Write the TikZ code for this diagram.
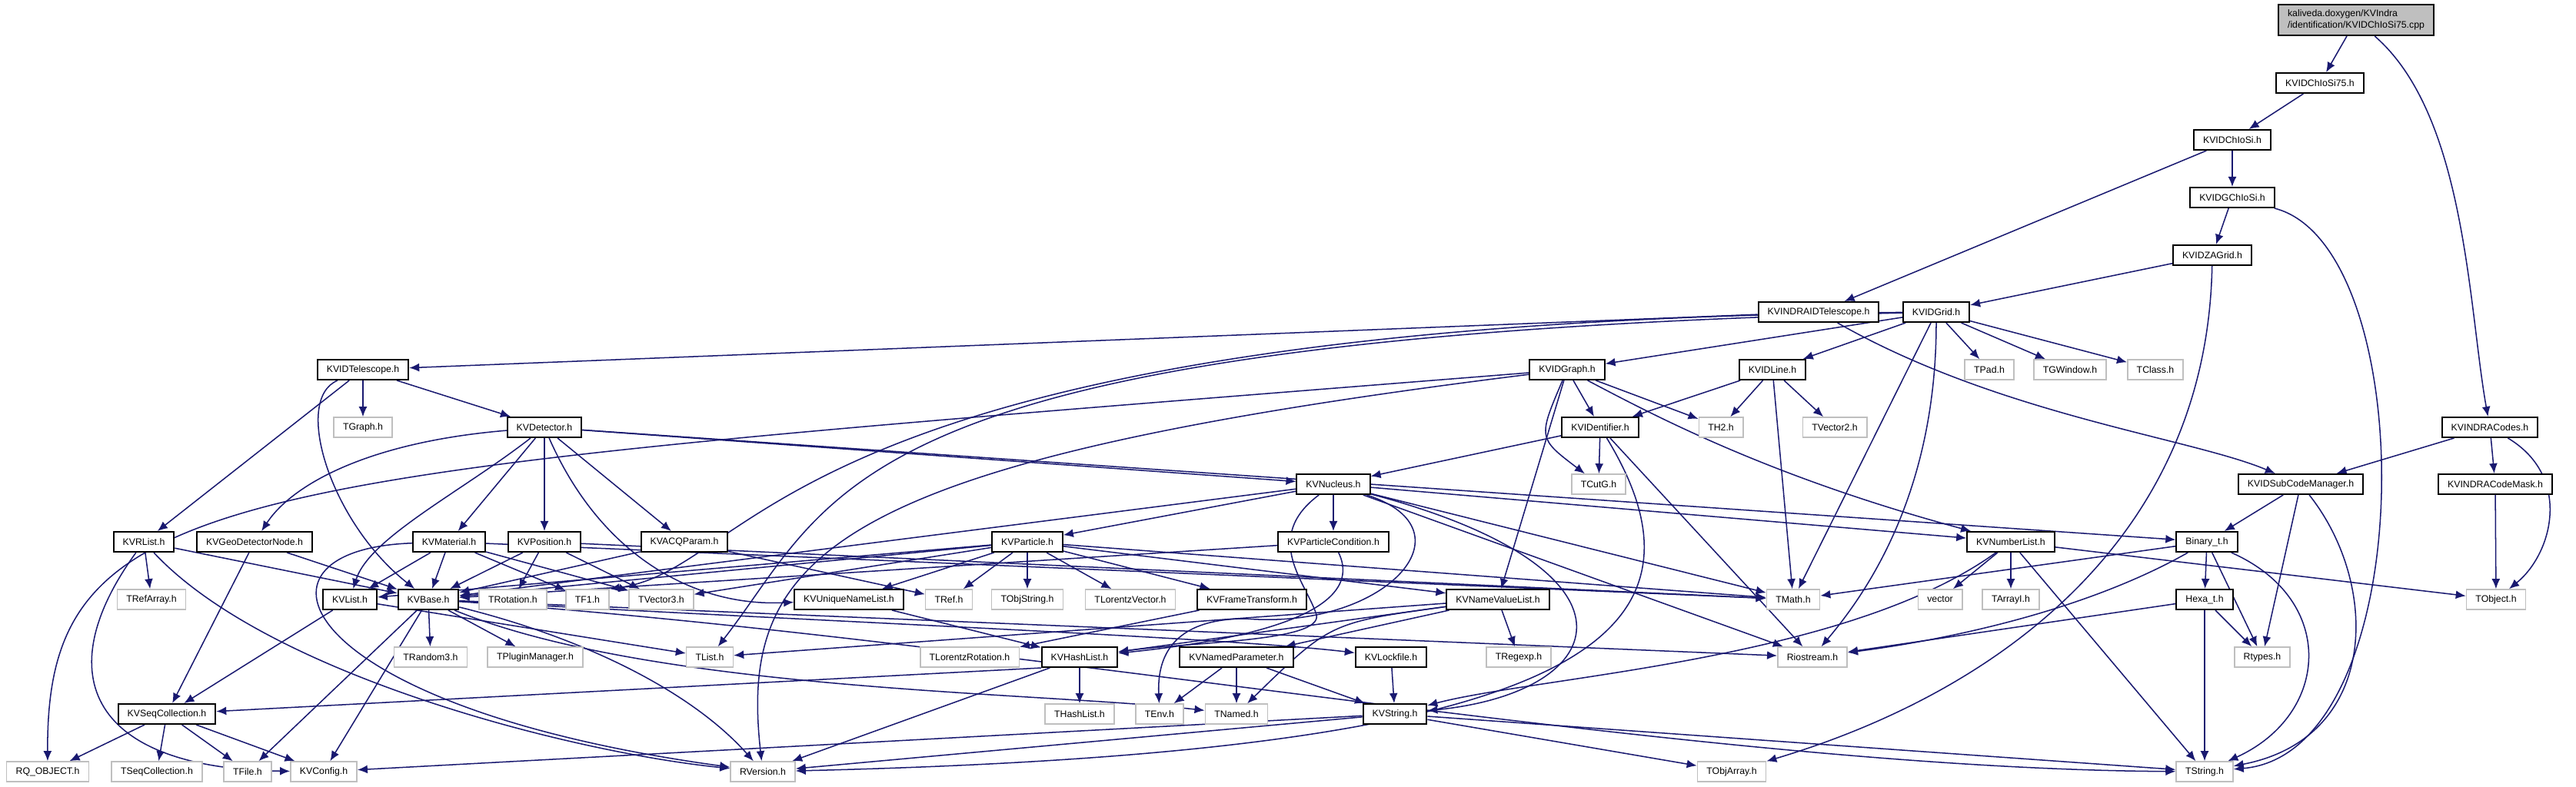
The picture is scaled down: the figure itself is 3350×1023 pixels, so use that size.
\documentclass[tikz,border=0pt]{standalone}
\usepackage{fontspec}
\setmainfont{Liberation Sans}
\usetikzlibrary{arrows.meta,backgrounds}
\definecolor{ink}{HTML}{191970}
\definecolor{shade}{HTML}{BFBFBF}

\begin{document}
\begin{tikzpicture}[x=0.01cm,y=-0.01cm,
  hdr/.style={draw=black,line width=0.57pt,fill=white,font=\fontsize{3.5}{4.2}\selectfont,inner xsep=3.4pt,inner ysep=0pt,minimum height=2.6mm},
  sys/.style={hdr,draw=shade,line width=0.45pt},
  dep/.style={draw=ink,line width=0.43pt,-{Latex[length=3.7pt,width=3.1pt]}}]
\useasboundingbox (0,0) rectangle (3350,1023);
\node[hdr,fill=shade,align=left,minimum height=4mm] (cpp) at (3064,26) {kaliveda.doxygen/KVIndra\\/identification/KVIDChIoSi75.cpp};
\foreach \nm/\x/\y/\lbl in {chio75/3017/108/KVIDChIoSi75.h, chio/2903/182/KVIDChIoSi.h,
  gchio/2903/257/KVIDGChIoSi.h, zagrid/2877/332/KVIDZAGrid.h, indratel/2365/406/KVINDRAIDTelescope.h,
  idgrid/2518/406/KVIDGrid.h, idtel/472/481/KVIDTelescope.h, idgraph/2038/481/KVIDGraph.h,
  idline/2305/481/KVIDLine.h, detector/708/556/KVDetector.h, ident/2081/556/KVIDentifier.h,
  indracodes/3238/556/KVINDRACodes.h, nucleus/1734/630/KVNucleus.h, subcode/2992/630/KVIDSubCodeManager.h,
  codemask/3245/630/KVINDRACodeMask.h, rlist/187/705/KVRList.h, geonode/331/705/KVGeoDetectorNode.h,
  material/584/705/KVMaterial.h, position/708/705/KVPosition.h, acqparam/890/705/KVACQParam.h,
  particle/1336/705/KVParticle.h, partcond/1734/705/KVParticleCondition.h, numlist/2615/705/KVNumberList.h,
  binary/2870/705/Binary\_t.h, kvlist/455/780/KVList.h, kvbase/557/780/KVBase.h,
  uniqlist/1104/780/KVUniqueNameList.h, frametr/1628/780/KVFrameTransform.h, nvlist/1948/780/KVNameValueList.h,
  hexa/2867/780/Hexa\_t.h, hashlist/1404/855/KVHashList.h, namedpar/1608/855/KVNamedParameter.h,
  lockfile/1809/855/KVLockfile.h, seqcoll/217/929/KVSeqCollection.h, kvstring/1814/929/KVString.h}
  \node[hdr] (\nm) at (\x,\y) {\lbl};
\foreach \nm/\x/\y/\lbl in {tpad/2587/481/TPad.h, tgwin/2692/481/TGWindow.h, tclass/2803/481/TClass.h,
  tgraph/472/556/TGraph.h, th2/2238/556/TH2.h, tvec2/2386/556/TVector2.h, tcutg/2079/630/TCutG.h,
  trefarray/197/780/TRefArray.h, trot/667/780/TRotation.h, tf1/764/780/TF1.h, tvec3/860/780/TVector3.h,
  tref/1234/780/TRef.h, tobjstr/1336/780/TObjString.h, tlorvec/1470/780/TLorentzVector.h,
  tmath/2332/780/TMath.h, vector/2523/780/vector, tarrayi/2615/780/TArrayI.h, tobject/3246/780/TObject.h,
  trandom/560/855/TRandom3.h, tplugin/696/855/TPluginManager.h, tlist/923/855/TList.h,
  tlorrot/1261/855/TLorentzRotation.h, tregexp/1975/855/TRegexp.h, riostream/2357/855/Riostream.h,
  rtypes/2942/855/Rtypes.h, thashlist/1404/929/THashList.h, tenv/1508/929/TEnv.h, tnamed/1608/929/TNamed.h,
  rqobj/62/1004/RQ\_OBJECT.h, tseqcoll/204/1004/TSeqCollection.h, tfile/322/1004/TFile.h,
  kvconfig/421/1004/KVConfig.h, rversion/992/1004/RVersion.h, tobjarray/2252/1004/TObjArray.h,
  tstring/2867/1004/TString.h}
  \node[sys] (\nm) at (\x,\y) {\lbl};
\begin{scope}[on background layer]
\fill[white] (0,0) rectangle (3350,1023);
\foreach \a/\b in {cpp/chio75, chio75/chio, chio/gchio, chio/indratel, gchio/zagrid, zagrid/idgrid,
  indratel/idtel, idgrid/idgraph, idgrid/idline, idgrid/tpad, idgrid/tgwin, idgrid/tclass, idgrid/tmath,
  idline/ident, idline/th2, idline/tvec2, idline/tmath, idgraph/ident, idgraph/th2, idgraph/nvlist,
  ident/nucleus, ident/tcutg, ident/riostream, idtel/tgraph, idtel/detector, idtel/rlist,
  detector/material, detector/position, detector/acqparam, detector/nucleus, detector/binary,
  rlist/trefarray, rlist/kvbase, geonode/seqcoll, geonode/kvbase,
  material/kvbase, material/kvlist, material/tf1, material/tvec3, material/tmath,
  position/kvbase, position/trot, position/tvec3, position/tmath, acqparam/kvbase, acqparam/tref,
  particle/kvbase, particle/kvlist, particle/tvec3, particle/uniqlist, particle/tref, particle/tobjstr,
  particle/tlorvec, particle/frametr, particle/nvlist, particle/tmath, partcond/kvbase,
  nucleus/particle, nucleus/partcond, nucleus/numlist, nucleus/kvbase, nucleus/tmath, nucleus/riostream,
  nvlist/hashlist, nvlist/namedpar, nvlist/tregexp, nvlist/tlist, uniqlist/hashlist, frametr/tlorrot,
  hashlist.south west/seqcoll, hashlist/thashlist, hashlist/rversion, namedpar/tenv, namedpar/tnamed,
  namedpar/kvstring, lockfile/kvstring, kvstring/tobjarray, kvstring/tstring, kvstring/rversion,
  kvstring/kvconfig, numlist/vector, numlist/tarrayi, numlist/tstring, numlist/tobject,
  binary/tmath, binary/hexa, binary/rtypes, hexa/riostream, hexa/rtypes, hexa/tstring,
  subcode/binary, subcode/rtypes, indracodes/subcode, indracodes/codemask, codemask/tobject,
  kvbase/trandom, kvbase/tplugin, kvbase/tfile, kvbase/kvconfig, kvbase/riostream,
  kvlist/seqcoll, kvlist/tlist, seqcoll/rqobj, seqcoll/tseqcoll, seqcoll/tfile, seqcoll/kvconfig}
  \draw[dep] (\a) -- (\b);
\foreach \a/\p/\q/\b in {cpp/{(3207,150)}/{(3210,400)}/indracodes, gchio/{(3150,320)}/{(3150,980)}/tstring,
  zagrid/{(2870,700)}/{(2600,900)}/tobjarray, indratel/{(2600,540)}/{(2850,570)}/subcode,
  idgrid/{(2518,650)}/{(2420,780)}/riostream, idgrid/{(1000,420)}/{(990,740)}/tf1.north east,
  idgrid/{(1090,440)}/{(1090,640)}/tlist, idgraph/{(2150,540)}/{(2300,620)}/numlist,
  idgraph/{(300,620)}/{(60,620)}/rqobj, idgraph/{(1080,600)}/{(960,720)}/rversion,
  idgraph/{(2000,570)}/{(2000,570)}/tcutg, ident/{(2260,850)}/{(2000,980)}/rversion,
  idtel/{(380,520)}/{(430,680)}/kvbase, detector/{(480,575)}/{(380,630)}/geonode,
  detector/{(600,640)}/{(480,700)}/kvlist, detector/{(780,720)}/{(900,790)}/uniqlist,
  rlist/{(60,880)}/{(120,1000)}/kvconfig, rlist/{(350,880)}/{(750,980)}/rversion,
  material/{(300,715)}/{(380,920)}/rversion, kvbase/{(760,830)}/{(900,900)}/rversion,
  kvbase/{(850,900)}/{(1350,900)}/tnamed, kvbase/{(1100,810)}/{(1600,830)}/lockfile,
  kvbase/{(1300,830)}/{(2200,1000)}/tstring, partcond/{(1775,790)}/{(1650,830)}/hashlist,
  nucleus/{(2150,740)}/{(2100,900)}/kvstring, numlist/{(2400,860)}/{(2000,880)}/kvstring,
  binary/{(2720,790)}/{(2550,830)}/riostream, binary/{(3040,780)}/{(3030,930)}/tstring,
  subcode/{(3095,760)}/{(3095,960)}/tstring, indracodes/{(3345,620)}/{(3320,720)}/tobject,
  nvlist/{(1730,810)}/{(1730,810)}/tnamed}
  \draw[dep] (\a) .. controls \p and \q .. (\b);
\draw[dep] (nucleus) .. controls (1640,700) and (1700,760) .. (1712,800) .. controls (1720,835) and (1550,835) .. (hashlist);
\draw[dep] (nucleus) .. controls (1920,690) and (1800,820) .. (1620,805) .. controls (1520,805) and (1505,860) .. (tenv);
\end{scope}
\end{tikzpicture}
\end{document}
